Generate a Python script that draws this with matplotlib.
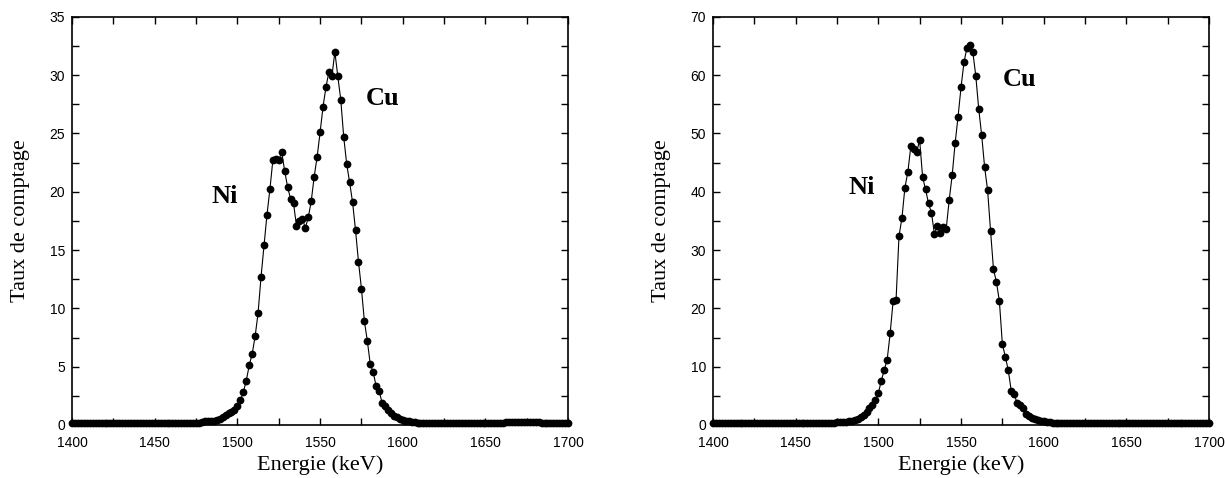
import numpy as np
import matplotlib
matplotlib.use("Agg")
import matplotlib.pyplot as plt
from matplotlib.ticker import MultipleLocator

# channel energies (keV), same for both spectra
energy = np.linspace(1400, 1700, 169)

# spectrum 1 (left)
counts_a = [
    # 1400 - 1478
    0.15, 0.14, 0.16, 0.15, 0.13, 0.14, 0.16, 0.15, 0.14, 0.13,
    0.15, 0.16, 0.14, 0.15, 0.13, 0.14, 0.15, 0.16, 0.14, 0.13,
    0.14, 0.15, 0.14, 0.16, 0.15, 0.14, 0.13, 0.15, 0.16, 0.15,
    0.14, 0.15, 0.16, 0.17, 0.16, 0.15, 0.17, 0.18, 0.17, 0.16,
    0.18, 0.19, 0.18, 0.20, 0.22,
    # 1480 - 1605
    0.30, 0.38, 0.32, 0.36, 0.45, 0.55, 0.70, 0.85, 1.0, 1.1,
    1.3, 1.6, 2.1, 2.8, 3.8, 5.1, 6.1, 7.6, 9.6, 12.7,
    15.4, 18.0, 20.2, 22.7, 22.8, 22.7, 23.4, 21.8, 20.4, 19.4,
    19.0, 17.1, 17.5, 17.7, 16.9, 17.8, 19.2, 21.3, 23.0, 25.1,
    27.3, 29.0, 30.3, 29.9, 32.0, 29.9, 27.9, 24.7, 22.4, 20.8,
    19.1, 16.7, 14.0, 11.7, 8.9, 7.2, 5.2, 4.5, 3.3, 2.9,
    1.9, 1.6, 1.3, 1.0, 0.8, 0.7, 0.55, 0.45, 0.38, 0.30,
    0.25,
    # 1607 - 1700
    0.22, 0.20, 0.18, 0.16, 0.17, 0.15, 0.14, 0.15, 0.14, 0.13,
    0.14, 0.15, 0.13, 0.14, 0.15, 0.14, 0.13, 0.14, 0.15, 0.14,
    0.15, 0.16, 0.15, 0.14, 0.16, 0.17, 0.16, 0.18, 0.17, 0.18,
    0.20, 0.22, 0.24, 0.26, 0.28, 0.27, 0.28, 0.26, 0.27, 0.25,
    0.26, 0.24, 0.22, 0.20, 0.18, 0.17, 0.16, 0.15, 0.16, 0.15,
    0.14, 0.15, 0.14,
]

# spectrum 2 (right)
counts_b = [
    # 1400 - 1478
    0.35, 0.32, 0.34, 0.30, 0.33, 0.35, 0.31, 0.32, 0.34, 0.30,
    0.32, 0.33, 0.31, 0.30, 0.32, 0.34, 0.32, 0.30, 0.31, 0.33,
    0.35, 0.34, 0.32, 0.30, 0.31, 0.33, 0.32, 0.34, 0.35, 0.33,
    0.32, 0.31, 0.33, 0.34, 0.35, 0.34, 0.36, 0.35, 0.37, 0.38,
    0.37, 0.40, 0.42, 0.44, 0.48,
    # 1480 - 1605
    0.55, 0.65, 0.75, 0.9, 1.1, 1.3, 1.7, 2.3, 2.9, 3.5,
    4.2, 5.4, 7.6, 9.4, 11.2, 15.7, 21.2, 21.4, 32.4, 35.5,
    40.7, 43.4, 47.8, 47.3, 46.9, 48.8, 42.5, 40.4, 38.0, 36.4,
    32.7, 34.2, 33.0, 33.9, 33.7, 38.6, 42.8, 48.3, 52.9, 57.9,
    62.2, 64.7, 65.1, 64.0, 59.9, 54.2, 49.7, 44.2, 40.3, 33.3,
    26.7, 24.5, 21.2, 13.9, 11.7, 9.4, 5.9, 5.3, 3.7, 3.4,
    2.9, 1.8, 1.5, 1.2, 1.0, 0.9, 0.7, 0.6, 0.5, 0.45,
    0.40,
    # 1607 - 1700
    0.38, 0.35, 0.34, 0.32, 0.31, 0.33, 0.31, 0.33, 0.30, 0.31,
    0.32, 0.30, 0.31, 0.29, 0.30, 0.32, 0.31, 0.30, 0.29, 0.31,
    0.30, 0.32, 0.31, 0.30, 0.29, 0.31, 0.30, 0.32, 0.31, 0.30,
    0.31, 0.30, 0.29, 0.31, 0.30, 0.32, 0.31, 0.30, 0.29, 0.30,
    0.31, 0.32, 0.31, 0.30, 0.32, 0.33, 0.31, 0.30, 0.31, 0.30,
    0.29, 0.30, 0.31,
]

panels = [
    {"counts": counts_a, "ymax": 35, "major": 5, "minor": 2.5,
     "ni": (1492.6, 19.6), "cu": (1588.0, 28.0)},
    {"counts": counts_b, "ymax": 70, "major": 10, "minor": 5,
     "ni": (1490.2, 40.7), "cu": (1585.6, 59.3)},
]

serif = ["Liberation Serif", "DejaVu Serif"]
sans = ["Liberation Sans", "DejaVu Sans"]

fig = plt.figure(figsize=(12.25, 4.78), dpi=100)
lefts = [0.0588, 0.582]

for left, p in zip(lefts, panels):
    ax = fig.add_axes([left, 0.111, 0.405, 0.8536])
    ax.plot(energy, p["counts"], "-", color="black", lw=0.8, zorder=2)
    ax.plot(energy, p["counts"], "o", color="black", ms=5.6, mew=0,
            zorder=3, clip_on=False)

    ax.set_xlim(1400, 1700)
    ax.set_ylim(0, p["ymax"])
    ax.xaxis.set_major_locator(MultipleLocator(50))
    ax.xaxis.set_minor_locator(MultipleLocator(25))
    ax.yaxis.set_major_locator(MultipleLocator(p["major"]))
    ax.yaxis.set_minor_locator(MultipleLocator(p["minor"]))
    ax.tick_params(which="both", direction="in", top=True, right=True, width=1)
    ax.tick_params(which="major", length=5, labelsize=10)
    ax.tick_params(axis="x", which="major", pad=8)
    ax.tick_params(axis="y", which="major", pad=5)
    ax.tick_params(which="minor", length=5)
    for lab in ax.get_xticklabels() + ax.get_yticklabels():
        lab.set_family(sans)
    for s in ax.spines.values():
        s.set_linewidth(1.2)

    ax.set_xlabel("Energie (keV)", family=serif, fontsize=16, labelpad=4)
    ax.set_ylabel("Taux de comptage", family=serif, fontsize=16, labelpad=14)

    ax.text(*p["ni"], "Ni", family=serif, fontsize=19, fontweight="bold",
            ha="center", va="center")
    ax.text(*p["cu"], "Cu", family=serif, fontsize=19, fontweight="bold",
            ha="center", va="center")

plt.savefig("out.png", dpi=100)
